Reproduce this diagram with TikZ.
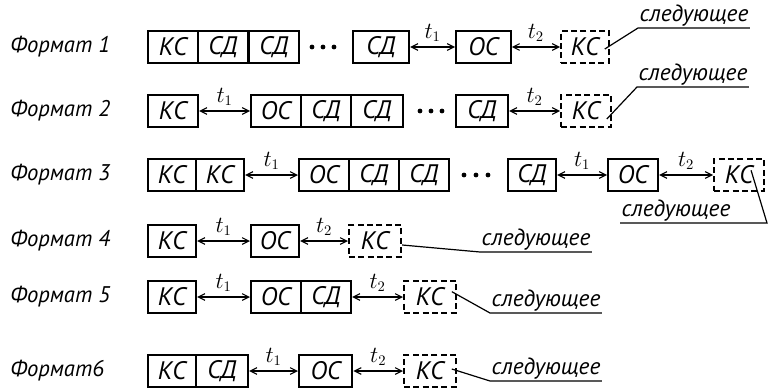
\documentclass[tikz,border=0pt]{standalone}
\usepackage{fontspec}
\setmainfont{PT Sans}
\usetikzlibrary{arrows.meta}

\tikzset{
  cell/.style={draw, line width=1.6pt, minimum width=37.5pt, minimum height=24pt,
    inner sep=0pt, anchor=west, font=\fontsize{19}{19}\selectfont\itshape},
  nextcell/.style={cell, dash pattern=on 4.5pt off 2.5pt},
  gap/.style={{Straight Barb[length=5pt,width=5pt]}-{Straight Barb[length=5pt,width=5pt]}, line width=0.8pt},
  tlbl/.style={font=\fontsize{16}{16}\selectfont, inner sep=0.75pt},
  fmt/.style={anchor=west, font=\fontsize{17}{17}\selectfont\itshape, inner sep=0pt},
  nextlbl/.style={anchor=south west, font=\fontsize{17.5}{17.5}\selectfont\itshape, inner sep=1pt},
  lead/.style={line width=0.9pt},
}

\begin{document}
\begin{tikzpicture}[x=0.75pt,y=0.75pt,yscale=-1,xscale=1]
    \useasboundingbox (0,0) rectangle (768,389);
    % Format 1
    \node[fmt] (f1) at (10,47) {Формат 1};
    \node[cell] (a1) at (147,47) {КС};
    \node[cell] (b1) at (197,47) {СД};
    \node[cell] (c1) at (248,47) {СД};
    \foreach \x in {312,323,334} \fill (\x,47) circle (1.8pt);
    \node[cell, minimum width=42pt] (d1) at (352,47) {СД};
    \node[cell, minimum width=41pt] (e1) at (455,47) {ОС};
    \node[nextcell, minimum width=36pt] (k1) at (560,47) {КС};
    \draw[gap] (d1) -- (e1) node[tlbl, midway, above=3pt] {$t_1$};
    \draw[gap] (e1) -- (k1) node[tlbl, midway, above=3pt] {$t_2$};
    \node[nextlbl] (n1) at (638,28) {следующее};
    \draw[lead] ([xshift=-4pt,yshift=1.5pt]k1.east) -- (n1.south west) -- (n1.south east);
    % Format 2
    \node[fmt] (f2) at (10,111) {Формат 2};
    \node[cell] (a2) at (147,111) {КС};
    \node[cell] (b2) at (250,111) {ОС};
    \node[cell] (c2) at (300,111) {СД};
    \node[cell, minimum width=39pt] (d2) at (350,111) {СД};
    \foreach \x in {420,431,442} \fill (\x,111) circle (1.8pt);
    \node[cell, minimum width=39pt] (e2) at (455,111) {СД};
    \node[nextcell] (k2) at (560,111) {КС};
    \draw[gap] (a2) -- (b2) node[tlbl, midway, above=3pt] {$t_1$};
    \draw[gap] (e2) -- (k2) node[tlbl, midway, above=3pt] {$t_2$};
    \node[nextlbl] (n2) at (637,87) {следующее};
    \draw[lead] ([xshift=-4pt,yshift=6pt]k2.east) -- (n2.south west) -- (n2.south east);
    % Format 3
    \node[fmt] (f3) at (10,175) {Формат 3};
    \node[cell, minimum width=36pt] (a3) at (147,175) {КС};
    \node[cell, minimum width=36pt] (b3) at (195,175) {КС};
    \node[cell] (c3) at (298,175) {ОС};
    \node[cell] (d3) at (348,175) {СД};
    \node[cell] (e3) at (398,175) {СД};
    \foreach \x in {464,476,488} \fill (\x,175) circle (1.8pt);
    \node[cell, minimum width=36pt] (g3) at (507,175) {СД};
    \node[cell] (h3) at (607,175) {ОС};
    \node[nextcell] (k3) at (713,175) {КС};
    \draw[gap] (b3) -- (c3) node[tlbl, midway, above=3pt] {$t_1$};
    \draw[gap] (g3) -- (h3) node[tlbl, midway, above=3pt] {$t_1$};
    \draw[gap] (h3) -- (k3) node[tlbl, midway, above=3pt] {$t_2$};
    \coordinate (u3) at (767,223);
    \node[nextlbl] (n3) at (620,223) {следующее};
    \draw[lead] ([xshift=9pt,yshift=-3.5pt]k3.center) -- (u3) -- (n3.south west);
    % Format 4
    \node[fmt] (f4) at (10,241) {Формат 4};
    \node[cell, minimum width=36pt] (a4) at (147,241) {КС};
    \node[cell, minimum width=36pt] (b4) at (250,241) {ОС};
    \node[nextcell, minimum width=39pt] (k4) at (348,241) {КС};
    \draw[gap] (a4) -- (b4) node[tlbl, midway, above=3pt] {$t_1$};
    \draw[gap] (b4) -- (k4) node[tlbl, midway, above=3pt] {$t_2$};
    \node[nextlbl] (n4) at (480,252) {следующее};
    \draw[lead] ([yshift=3pt]k4.east) -- (n4.south west) -- (n4.south east);
    % Format 5
    \node[fmt] (f5) at (10,297) {Формат 5};
    \node[cell, minimum width=36pt] (a5) at (147,297) {КС};
    \node[cell] (b5) at (250,297) {ОС};
    \node[cell] (c5) at (300,297) {СД};
    \node[nextcell, minimum width=39pt] (k5) at (403,297) {КС};
    \draw[gap] (a5) -- (b5) node[tlbl, midway, above=3pt] {$t_1$};
    \draw[gap] (c5) -- (k5) node[tlbl, midway, above=3pt] {$t_2$};
    \node[nextlbl] (n5) at (490,313) {следующее};
    \draw[lead] ([xshift=-4pt,yshift=-4pt]k5.east) -- (n5.south west) -- (n5.south east);
    % Format 6
    \node[fmt] (f6) at (10,371) {Формат6};
    \node[cell, minimum width=36pt] (a6) at (147,371) {КС};
    \node[cell, minimum width=39pt] (b6) at (195,371) {СД};
    \node[cell, minimum width=40pt] (c6) at (298,371) {ОС};
    \node[nextcell, minimum width=39pt] (k6) at (403,371) {КС};
    \draw[gap] (b6) -- (c6) node[tlbl, midway, above=3pt] {$t_1$};
    \draw[gap] (c6) -- (k6) node[tlbl, midway, above=3pt] {$t_2$};
    \node[nextlbl] (n6) at (490,381) {следующее};
    \draw[lead] ([xshift=-4pt,yshift=-1.5pt]k6.east) -- (n6.south west) -- (n6.south east);
\end{tikzpicture}
\end{document}
